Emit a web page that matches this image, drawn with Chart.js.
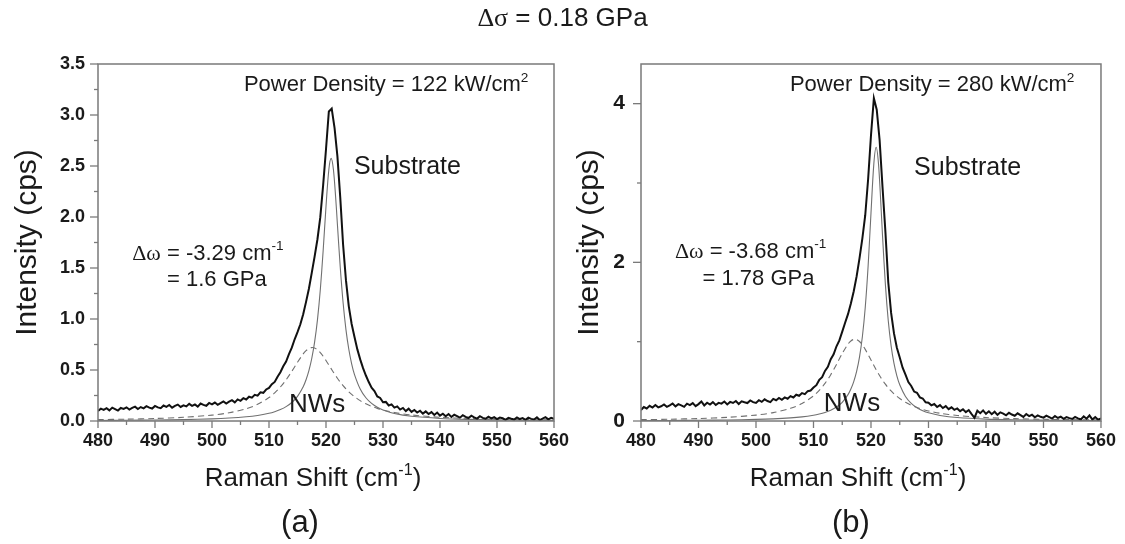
<!DOCTYPE html>
<html><head><meta charset="utf-8">
<script src="https://cdn.jsdelivr.net/npm/chart.js@4.4.1/dist/chart.umd.min.js"></script>
<style>
html,body{margin:0;padding:0;background:#fff;}
#wrap{position:relative;width:1125px;height:544px;overflow:hidden;background:#fff;}
#cA{position:absolute;left:0;top:0;}
#cB{position:absolute;left:565px;top:0;}
#title{position:absolute;left:0;width:1125px;top:2px;line-height:32px;text-align:center;font:26px 'Liberation Sans',Arial,sans-serif;color:#1a1a1a;}
#title .g{font-family:'Liberation Serif','Times New Roman',serif;}
</style></head><body>
<div id="wrap">
<canvas id="cA" width="580" height="544"></canvas>
<canvas id="cB" width="560" height="544"></canvas>
<div id="title"><span class="g">&Delta;&sigma;</span> = 0.18 GPa</div>
</div>
<script>
// Raman shift (cm^-1) of the measured spectra
const shift = [
480,480.5,481,481.5,482,482.5,483,483.5,484,484.5,
485,485.5,486,486.5,487,487.5,488,488.5,489,489.5,
490,490.5,491,491.5,492,492.5,493,493.5,494,494.5,
495,495.5,496,496.5,497,497.5,498,498.5,499,499.5,
500,500.5,501,501.5,502,502.5,503,503.5,504,504.5,
505,505.5,506,506.5,507,507.5,508,508.5,509,509.5,
510,510.5,511,511.5,512,512.5,513,513.5,514,514.5,
515,515.5,516,516.5,517,517.5,518,518.5,519,519.5,
520,520.5,521,521.5,522,522.5,523,523.5,524,524.5,
525,525.5,526,526.5,527,527.5,528,528.5,529,529.5,
530,530.5,531,531.5,532,532.5,533,533.5,534,534.5,
535,535.5,536,536.5,537,537.5,538,538.5,539,539.5,
540,540.5,541,541.5,542,542.5,543,543.5,544,544.5,
545,545.5,546,546.5,547,547.5,548,548.5,549,549.5,
550,550.5,551,551.5,552,552.5,553,553.5,554,554.5,
555,555.5,556,556.5,557,557.5,558,558.5,559,559.5,
560];
// (a) measured spectrum, 122 kW/cm2
const specA = [
.098,.121,.109,.126,.104,.131,.117,.102,.128,.119,
.134,.112,.129,.141,.118,.137,.124,.146,.131,.122,
.148,.133,.126,.152,.139,.157,.131,.149,.161,.138,
.154,.143,.168,.149,.162,.141,.171,.158,.149,.177,
.163,.181,.158,.176,.192,.171,.189,.204,.183,.212,
.198,.224,.211,.238,.229,.256,.248,.281,.276,.309,
.324,.361,.383,.434,.478,.536,.583,.655,.719,.801,
.871,.948,1.046,1.168,1.297,1.452,1.611,1.782,1.998,2.312,
2.664,3.035,3.062,2.874,2.596,2.193,1.728,1.381,1.124,.951,
.823,.702,.604,.518,.446,.382,.327,.294,.241,.226,
.184,.187,.152,.163,.131,.143,.112,.128,.097,.121,
.089,.108,.083,.101,.072,.094,.068,.087,.059,.083,
.052,.071,.046,.068,.039,.061,.048,.033,.057,.041,
.029,.052,.036,.024,.047,.031,.022,.043,.026,.037,
.018,.034,.027,.012,.031,.022,.014,.035,.019,.028,
.011,.033,.021,.015,.036,.009,.024,.038,.016,.031,
.022];
// (b) measured spectrum, 280 kW/cm2
const specB = [
.138,.176,.158,.191,.169,.201,.172,.186,.208,.179,
.197,.221,.184,.212,.196,.178,.219,.201,.226,.188,
.213,.247,.196,.231,.207,.238,.202,.229,.219,.246,
.209,.241,.227,.252,.214,.248,.236,.226,.259,.238,
.228,.262,.241,.273,.252,.238,.279,.262,.291,.268,
.297,.281,.314,.296,.331,.318,.352,.339,.376,.384,
.421,.452,.518,.553,.631,.682,.779,.841,.942,1.016,
1.126,1.238,1.347,1.482,1.636,1.823,2.051,2.302,2.594,3.047,
3.602,4.068,3.924,3.541,2.953,2.394,1.752,1.362,1.104,.924,
.801,.672,.584,.491,.442,.371,.356,.298,.284,.236,
.231,.198,.214,.176,.201,.163,.187,.149,.172,.141,
.158,.124,.149,.112,.138,.087,.041,.129,.098,.134,
.091,.122,.086,.117,.078,.109,.094,.071,.103,.082,
.066,.097,.074,.052,.088,.061,.079,.046,.071,.053,
.042,.068,.049,.031,.062,.038,.054,.027,.049,.036,
.025,.051,.034,.019,.058,.029,.071,.018,.049,.016,
.031];
// Raman shift positions of the fitted components
const fitShift = [480,485,490,495,500,503,506,508,510,511,512,513,514,515,516,516.5,517,517.5,518,518.5,519,519.5,520,520.5,520.9,521.3,521.7,522,522.5,523,523.5,524,524.5,525,526,527,528,529,530,532,535,540,545,550,555,560];
// (a) substrate and nanowire components
const subA = [.0055,.0072,.0097,.0138,.0211,.0287,.0412,.0547,.076,.0915,.1123,.1408,.1815,.242,.3366,.4047,.494,.6128,.7733,.992,1.2875,1.669,2.103,2.466,2.575,2.466,2.187,1.929,1.507,1.159,.8964,.7032,.561,.4552,.3138,.2277,.1721,.1343,.1076,.0733,.0459,.0252,.0159,.0109,.008,.0061];
const nwA = [.0135,.0179,.0247,.0362,.0578,.0811,.1205,.1633,.2296,.2757,.3333,.4039,.4867,.576,.6577,.6892,.7105,.7197,.7158,.699,.6713,.6352,.5935,.5492,.5133,.478,.444,.4196,.3814,.3464,.3148,.2863,.2608,.238,.1995,.1687,.144,.124,.1077,.0831,.059,.0368,.025,.0181,.0137,.0107];
// (b) substrate and nanowire components
const subB = [.0053,.0068,.0092,.0131,.0201,.0273,.0393,.0523,.0728,.0878,.108,.1359,.176,.2363,.3324,.4029,.497,.6255,.8051,1.0615,1.4315,1.954,2.621,3.247,3.45,3.247,2.76,2.343,1.725,1.267,.9477,.7257,.5691,.456,.3091,.2221,.1667,.1296,.1034,.0702,.0439,.024,.0151,.0104,.0076,.0058];
const nwB = [.0169,.0224,.0311,.046,.0744,.1056,.1598,.2204,.3169,.386,.4739,.5834,.7131,.8512,.9694,1.0085,1.0282,1.026,1.0021,.9596,.903,.8377,.7685,.6994,.6461,.5955,.5482,.515,.4641,.4187,.3783,.3425,.3109,.2829,.2362,.1993,.1699,.1462,.127,.098,.0698,.0437,.0298,.0216,.0163,.0128];
// axis ranges and ticks
const xMin = 480, xMax = 560, xMinor = 5, xMajor = 10;
const yA = {min: 0, max: 3.5, minor: 0.25, major: 0.5, dec: 1};
const yB = {min: 0, max: 4.5, minor: 1, major: 2, dec: 0};

const SANS = "'Liberation Sans', Arial, Helvetica, sans-serif";
const SERIF = "'Liberation Serif', 'Times New Roman', serif";
const AXIS = '#7a7a7a';
const INK = '#1a1a1a';
const FIT = '#707070';

function pts(xs, ys){ return xs.map((x,i)=>({x:x, y:ys[i]})); }
function isMult(v, step){ const r = v/step; return Math.abs(r-Math.round(r)) < 1e-6; }

function drawRich(ctx, segs, x, yc, size, align){
  let w = 0;
  const parts = segs.map(s => {
    const fs = s.sup ? size*0.62 : size;
    const font = `${s.bold?'bold ':''}${fs}px ${s.serif?SERIF:SANS}`;
    ctx.font = font;
    const mw = ctx.measureText(s.t).width;
    w += mw;
    return {s, font, mw};
  });
  let cx = align === 'center' ? x - w/2 : x;
  const base = yc + size*0.36;
  ctx.textAlign = 'left'; ctx.textBaseline = 'alphabetic';
  parts.forEach(p => {
    ctx.font = p.font;
    ctx.fillText(p.s.t, cx, base - (p.s.sup ? size*0.42 : 0));
    cx += p.mw;
  });
}

const decor = {
  id: 'decor',
  afterDraw(chart, args, o){
    const ctx = chart.ctx, ca = chart.chartArea, xs = chart.scales.x, ys = chart.scales.y;
    ctx.save();
    ctx.strokeStyle = AXIS; ctx.lineWidth = 1.5;
    ctx.strokeRect(ca.left, ca.top, ca.right-ca.left, ca.bottom-ca.top);
    ctx.lineWidth = 1.3;
    xs.ticks.forEach(t => {
      if (!isMult(t.value, xMinor)) return;
      const px = xs.getPixelForValue(t.value);
      const len = isMult(t.value, xMajor) ? 7 : 4;
      ctx.beginPath(); ctx.moveTo(px, ca.bottom); ctx.lineTo(px, ca.bottom+len); ctx.stroke();
    });
    ys.ticks.forEach(t => {
      if (!isMult(t.value, o.y.minor)) return;
      const py = ys.getPixelForValue(t.value);
      const len = isMult(t.value, o.y.major) ? 8 : 4;
      ctx.beginPath(); ctx.moveTo(ca.left, py); ctx.lineTo(ca.left-len, py); ctx.stroke();
    });
    ctx.fillStyle = INK;
    o.texts.forEach(tx => {
      drawRich(ctx, tx.segs, xs.getPixelForValue(tx.x), ys.getPixelForValue(tx.y), tx.size, 'left');
    });
    const cxm = (ca.left+ca.right)/2;
    drawRich(ctx, [{t:'Raman Shift (cm'},{t:'-1',sup:true},{t:')'}], cxm + o.xTitleDx, 477, 26, 'center');
    drawRich(ctx, [{t:o.panel}], cxm + o.panelDx, 521, 31, 'center');
    ctx.restore();
  }
};

function makeChart(id, spec, sub, nw, ycfg, layout, texts, panel, xTitleDx, panelDx){
  return new Chart(document.getElementById(id), {
    type: 'line',
    data: { datasets: [
      {data: pts(shift, spec), borderColor: '#111', borderWidth: 2, pointRadius: 0, tension: 0, order: 0},
      {data: pts(fitShift, sub), borderColor: FIT, borderWidth: 1.1, pointRadius: 0, tension: 0.3, order: 1},
      {data: pts(fitShift, nw), borderColor: FIT, borderWidth: 1.1, borderDash: [6,4], pointRadius: 0, tension: 0.3, order: 2}
    ]},
    options: {
      responsive: false, animation: false, devicePixelRatio: 1,
      layout: { padding: layout.padding },
      plugins: { legend: {display: false}, tooltip: {enabled: false}, decor: {y: ycfg, texts, panel, xTitleDx, panelDx} },
      scales: {
        x: { type: 'linear', min: xMin, max: xMax,
             grid: {display: false, drawTicks: false}, border: {display: false},
             ticks: {stepSize: xMinor, autoSkip: false, maxRotation: 0, padding: 9, color: INK,
                     font: {family: SANS, size: 18, weight: 'bold'},
                     callback: v => isMult(v, xMajor) ? String(v) : ''},
             afterFit: s => { s.height = 72; } },
        y: { type: 'linear', min: ycfg.min, max: ycfg.max,
             grid: {display: false, drawTicks: false}, border: {display: false},
             ticks: {stepSize: ycfg.minor, autoSkip: false, padding: layout.yPad, color: INK,
                     font: {family: SANS, size: layout.yFont, weight: 'bold'},
                     callback: v => (isMult(v, ycfg.major) ? Number(v).toFixed(ycfg.dec) : '')},
             title: {display: true, text: 'Intensity (cps)', color: INK, font: {family: SANS, size: 30}, padding: {top: layout.tPad, bottom: 0}},
             afterFit: s => { s.width = layout.yWidth; } }
      }
    },
    plugins: [decor]
  });
}

const dw = (v) => [{t:'\u0394\u03c9', serif: true},{t:' = ' + v + ' cm'},{t:'-1', sup: true}];

makeChart('cA', specA, subA, nwA, yA,
  {padding: {left: 0, right: 26, top: 64, bottom: 51}, yWidth: 98, yPad: 13, yFont: 18, tPad: 10},
  [
    {x: 505.6, y: 3.31, size: 22, segs: [{t:'Power Density = 122 kW/cm'},{t:'2',sup:true}]},
    {x: 524.9, y: 2.51, size: 25, segs: [{t:'Substrate'}]},
    {x: 486.0, y: 1.66, size: 22, segs: dw('-3.29')},
    {x: 492.1, y: 1.40, size: 22, segs: [{t:'= 1.6 GPa'}]},
    {x: 513.5, y: 0.18, size: 26, segs: [{t:'NWs'}]}
  ], '(a)', -13, -26);

makeChart('cB', specB, subB, nwB, yB,
  {padding: {left: 0, right: 21, top: 64, bottom: 51}, yWidth: 76, yPad: 16, yFont: 21, tPad: 7},
  [
    {x: 505.9, y: 4.26, size: 22, segs: [{t:'Power Density = 280 kW/cm'},{t:'2',sup:true}]},
    {x: 527.5, y: 3.22, size: 25, segs: [{t:'Substrate'}]},
    {x: 485.9, y: 2.16, size: 22, segs: dw('-3.68')},
    {x: 490.7, y: 1.82, size: 22, segs: [{t:'= 1.78 GPa'}]},
    {x: 511.8, y: 0.245, size: 26, segs: [{t:'NWs'}]}
  ], '(b)', -13, -20);
</script>
</body></html>
